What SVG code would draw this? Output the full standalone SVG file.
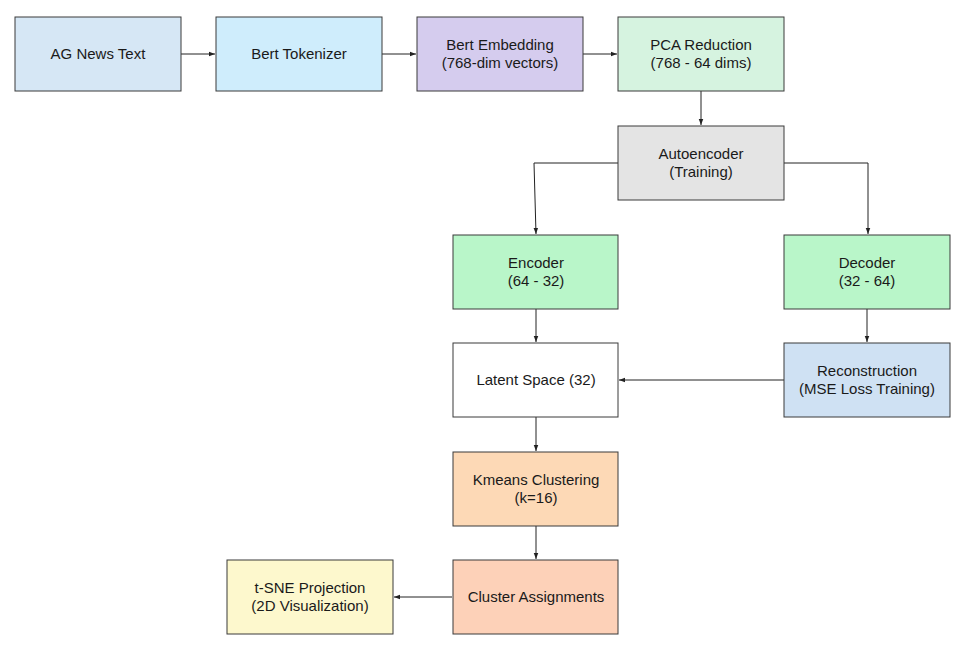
<svg xmlns="http://www.w3.org/2000/svg" width="975" height="660" viewBox="0 0 975 660">
<style>
.n rect{stroke:#3a3a3a;stroke-width:1}
.n text{font-family:"Liberation Sans",Arial,sans-serif;font-size:15px;fill:#1a1a1a;text-anchor:middle}
.e path{fill:none;stroke:#222;stroke-width:1;marker-end:url(#a)}
</style>
<defs>
<marker id="a" viewBox="0 0 8 8" refX="8" refY="4" markerWidth="6" markerHeight="6" orient="auto" markerUnits="userSpaceOnUse">
<path d="M0,1 L8,4 L0,7 Z" fill="#222"/>
</marker>
</defs>
<rect width="975" height="660" fill="#fff"/>
<g class="e">
<path d="M181,54 H215"/>
<path d="M382,54 H416"/>
<path d="M583,54 H617"/>
<path d="M701,91 V125"/>
<path d="M618,163 H534 L536,234"/>
<path d="M784,163 H868 V234"/>
<path d="M536,309 V342"/>
<path d="M867,309 V342"/>
<path d="M784,380 H619"/>
<path d="M536,417 V451"/>
<path d="M536,526 V559"/>
<path d="M452,597 H394"/>
</g>
<g id="ag" class="n"><rect x="15" y="17" width="166" height="74" fill="#d6e7f5"/><text x="98" y="59">AG News Text</text></g>
<g id="tok" class="n"><rect x="216" y="17" width="166" height="74" fill="#cfedfc"/><text x="299" y="59">Bert Tokenizer</text></g>
<g id="emb" class="n"><rect x="417" y="17" width="166" height="74" fill="#d5ccee"/><text x="500" y="50">Bert Embedding</text><text x="500" y="68">(768-dim vectors)</text></g>
<g id="pca" class="n"><rect x="618" y="17" width="166" height="74" fill="#d6f3e0"/><text x="701" y="50">PCA Reduction</text><text x="701" y="68">(768 - 64 dims)</text></g>
<g id="ae" class="n"><rect x="618" y="126" width="166" height="74" fill="#e4e4e4"/><text x="701" y="159">Autoencoder</text><text x="701" y="177">(Training)</text></g>
<g id="enc" class="n"><rect x="453" y="235" width="165" height="74" fill="#b9f6c9"/><text x="536" y="268">Encoder</text><text x="536" y="286">(64 - 32)</text></g>
<g id="dec" class="n"><rect x="784" y="235" width="166" height="74" fill="#b9f6c9"/><text x="867" y="268">Decoder</text><text x="867" y="286">(32 - 64)</text></g>
<g id="lat" class="n"><rect x="453" y="343" width="165" height="74" fill="#ffffff"/><text x="536" y="385">Latent Space (32)</text></g>
<g id="rec" class="n"><rect x="784" y="343" width="166" height="74" fill="#cfe1f3"/><text x="867" y="376">Reconstruction</text><text x="867" y="394">(MSE Loss Training)</text></g>
<g id="km" class="n"><rect x="453" y="452" width="165" height="74" fill="#fdd9b6"/><text x="536" y="485">Kmeans Clustering</text><text x="536" y="503">(k=16)</text></g>
<g id="ca" class="n"><rect x="453" y="560" width="165" height="74" fill="#fdd1b8"/><text x="536" y="602">Cluster Assignments</text></g>
<g id="tsne" class="n"><rect x="227" y="560" width="166" height="74" fill="#fdf8cd"/><text x="310" y="593">t-SNE Projection</text><text x="310" y="611">(2D Visualization)</text></g>
</svg>
